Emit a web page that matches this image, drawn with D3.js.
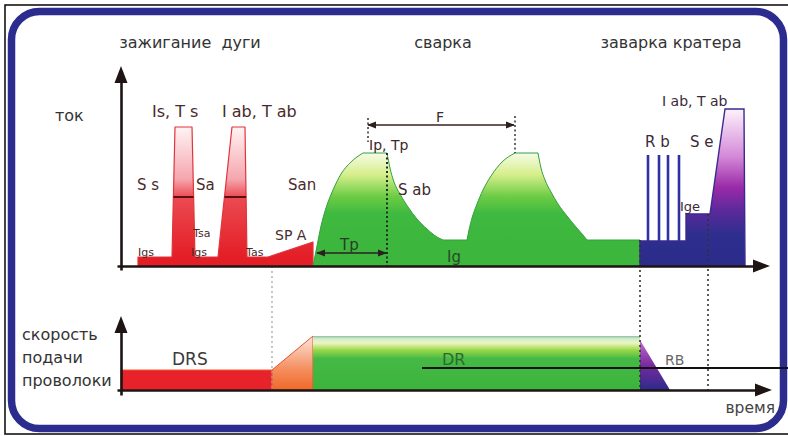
<!DOCTYPE html>
<html><head><meta charset="utf-8">
<script src="https://cdn.jsdelivr.net/npm/d3@7"></script>
<style>
html,body{margin:0;padding:0;background:#fff;}
svg{display:block;}
text{font-family:"DejaVu Sans",sans-serif;}
</style></head>
<body>
<script>
// ---------- data (time units / current units / wire-speed units) ----------
const phaseLabels = ["зажигание  дуги", "сварка", "заварка кратера"];
const phaseTimes = [69, 322, 550];

// ignition (red) current profile [t, I]
const ignitionProfile = [[17,0],[17,9],[51,9],[54,139],[71,139],[74,9],[97,9],[111,139],[124,139],[126,9],[147,9],[192,24],[192,0]];
const slopeMarks = [[52.4,72.6],[103.5,125.1]];
const slopeLevel = 69;

// welding (green) pulse profile [t, I]
const weldRise1 = [[192,0],[196,20],[200,40],[205,58],[212,76],[220,92],[230,104],[242,113]];
const weldFall1 = [[266,113],[269,98],[273,84],[279,72],[287,59],[296,47],[306,37],[316,29],[322,26]];
const weldRise2 = [[346,26],[348,36],[351,48],[356,62],[362,76],[370,90],[381,104],[394,113]];
const weldFall2 = [[417,113],[420,98],[424,86],[430,74],[437,62],[446,50],[455,39],[462,31],[466,26]];
const weldEnd = [[519,26],[519,0]];

// crater fill (blue/purple) profile [t, I]
const craterProfile = [[519,0],[519,25],[565,25],[565,52],[589,52],[604,157],[623,157],[624,0]];
const rbBars = [527,538,547,558];
const rbTop = 111, rbBase = 25;

// wire feed speed [t, V]
const drsProfile = [[0,0],[0,20],[151,20],[151,0]];
const rampProfile = [[151,0],[151,20],[192,54],[192,0]];
const drProfile = [[192,0],[192,54],[519,54],[519,0]];
const rbProfile = [[519,0],[519,50],[549,0]];

// ---------- layout ----------
const W = 788, H = 436;
const x = d3.scaleLinear().domain([0,646]).range([121,767]);
const yT = d3.scaleLinear().domain([0,200]).range([266,66]);
const yB = d3.scaleLinear().domain([0,74]).range([390,316]);

const svg = d3.select("body").append("svg").attr("width",W).attr("height",H);
const defs = svg.append("defs");

function grad(id, y1, y2, stops){
  const g = defs.append("linearGradient").attr("id",id).attr("gradientUnits","userSpaceOnUse")
    .attr("x1",0).attr("x2",0).attr("y1",y1).attr("y2",y2);
  stops.forEach(s=>g.append("stop").attr("offset",s[0]).attr("stop-color",s[1]));
}
grad("gRed", yT(139), yT(9), [[0,"#fff4f4"],[0.4,"#f5a6ae"],[0.54,"#ec4a52"],[1,"#e31e26"]]);
grad("gGreen", yT(113), yT(26), [[0,"#f6fbe8"],[0.25,"#d6ee8a"],[0.5,"#6ccc45"],[0.7,"#3fb93f"],[1,"#3cb63c"]]);
grad("gCrater", yT(157), yT(0), [[0,"#fdf2fb"],[0.3,"#d48ad8"],[0.5,"#9a2aa8"],[0.65,"#5a2a9a"],[0.8,"#2e2e8e"],[1,"#2b2b8a"]]);
grad("gDR", yB(54), yB(0), [[0,"#8fbf9f"],[0.05,"#d0ecd0"],[0.13,"#eef6c0"],[0.26,"#9ad84a"],[0.42,"#45b945"],[1,"#3cb43c"]]);
grad("gRamp", yB(54), yB(0), [[0,"#fde6dc"],[0.6,"#f59060"],[1,"#f06828"]]);
grad("gRB", yB(50), yB(0), [[0,"#c070d0"],[0.5,"#7a2aa0"],[1,"#2b2b8a"]]);

function arrowMarker(id, color, size){
  defs.append("marker").attr("id",id).attr("viewBox","0 0 10 10").attr("refX",9).attr("refY",5)
    .attr("markerWidth",size).attr("markerHeight",size).attr("orient","auto-start-reverse")
    .attr("markerUnits","userSpaceOnUse")
    .append("path").attr("d","M0,1 L10,5 L0,9 Z").attr("fill",color);
}
arrowMarker("arrSmall","#2a2020",9);

// ---------- frame ----------
svg.append("rect").attr("x",5).attr("y",5).attr("width",795).attr("height",429)
  .attr("fill","none").attr("stroke","#151515").attr("stroke-width",1.6);
svg.append("rect").attr("x",11.5).attr("y",11.5).attr("width",772).attr("height",417)
  .attr("rx",28).attr("ry",28).attr("fill","#fff").attr("stroke","#2c2c8e").attr("stroke-width",7.5);

const lineT = d3.line().x(d=>x(d[0])).y(d=>yT(d[1]));
const lineB = d3.line().x(d=>x(d[0])).y(d=>yB(d[1]));

function joinPaths(sections, yScale){
  let d = "";
  sections.forEach((s,i)=>{
    const str = d3.line().x(p=>x(p[0])).y(p=>yScale(p[1]))
      .curve(s.smooth ? d3.curveMonotoneX : d3.curveLinear)(s.pts);
    d += (i===0) ? str : "L" + str.slice(1);
  });
  return d + "Z";
}

// ---------- top panel: current ----------
svg.append("path").attr("d", lineT(ignitionProfile)+"Z").attr("fill","url(#gRed)")
  .attr("stroke","#e0343a").attr("stroke-width",1.2).attr("stroke-linejoin","round");
slopeMarks.forEach(m=>{
  svg.append("line").attr("x1",x(m[0])).attr("x2",x(m[1])).attr("y1",yT(slopeLevel)).attr("y2",yT(slopeLevel))
    .attr("stroke","#5a1010").attr("stroke-width",2);
});

svg.append("path").attr("d", joinPaths([
  {pts:weldRise1,smooth:true},{pts:weldFall1,smooth:true},{pts:weldRise2,smooth:true},
  {pts:weldFall2,smooth:true},{pts:weldEnd,smooth:false}], yT))
  .attr("fill","url(#gGreen)").attr("stroke","#34a040").attr("stroke-width",1);

svg.append("path").attr("d", lineT(craterProfile)+"Z").attr("fill","url(#gCrater)")
  .attr("stroke","#3a2a90").attr("stroke-width",1.4);
rbBars.forEach(t=>{
  svg.append("line").attr("x1",x(t)).attr("x2",x(t)).attr("y1",yT(rbBase)).attr("y2",yT(rbTop))
    .attr("stroke","#3030a0").attr("stroke-width",2.6);
});

// ---------- bottom panel: wire feed ----------
svg.append("path").attr("d", lineB(drsProfile)+"Z").attr("fill","#e8222a").attr("stroke","#f05a30").attr("stroke-width",1);
svg.append("path").attr("d", lineB(rampProfile)+"Z").attr("fill","url(#gRamp)").attr("stroke","#e85030").attr("stroke-width",1);
svg.append("path").attr("d", lineB(drProfile)+"Z").attr("fill","url(#gDR)");
svg.append("path").attr("d", lineB(rbProfile)+"Z").attr("fill","url(#gRB)");

// ---------- guide lines ----------
const guides = [
  {t:151, y1:yT(0), y2:yB(0), c:"#a0a0a0", w:1.2, dash:"2,3"},
  {t:519, y1:yT(26), y2:yB(0), c:"#333", w:1.6, dash:"2,3"},
  {t:587, y1:yT(52), y2:yB(0), c:"#333", w:1.6, dash:"2,3"},
  {t:266, y1:yT(113), y2:yT(0), c:"#1f3020", w:2, dash:"2,2.5"},
  {t:247, y1:yT(148), y2:yT(124), c:"#333", w:1.5, dash:"2,2.5"},
  {t:394, y1:yT(150), y2:yT(113), c:"#333", w:1.5, dash:"2,2.5"}
];
guides.forEach(g=>{
  svg.append("line").attr("x1",x(g.t)).attr("x2",x(g.t)).attr("y1",g.y1).attr("y2",g.y2)
    .attr("stroke",g.c).attr("stroke-width",g.w).attr("stroke-dasharray",g.dash);
});

// F and Tp dimension arrows
svg.append("line").attr("x1",x(247)).attr("x2",x(393)).attr("y1",yT(141)).attr("y2",yT(141))
  .attr("stroke","#3a2020").attr("stroke-width",1.6)
  .attr("marker-start","url(#arrSmall)").attr("marker-end","url(#arrSmall)");
svg.append("line").attr("x1",x(196)).attr("x2",x(265)).attr("y1",yT(13)).attr("y2",yT(13))
  .attr("stroke","#2a2020").attr("stroke-width",1.6)
  .attr("marker-start","url(#arrSmall)").attr("marker-end","url(#arrSmall)");

// ---------- axes ----------
function axisArrow(px, py, dir){
  const L = 17, hw = 6.5;
  let p;
  if(dir==="up") p = [[px,py],[px-hw,py+L],[px+hw,py+L]];
  else p = [[px,py],[px-L,py-hw],[px-L,py+hw]];
  svg.append("path").attr("d","M"+p.map(q=>q.join(",")).join("L")+"Z").attr("fill","#1e1414");
}
const xAxisTop = d3.axisBottom(d3.scaleLinear().domain([0,1]).range([117,758])).ticks(0).tickSizeOuter(0);
svg.append("g").attr("transform",`translate(0,${yT(0)})`).call(xAxisTop)
  .select(".domain").attr("stroke","#1e1414").attr("stroke-width",2.6);
const yAxisTop = d3.axisLeft(d3.scaleLinear().domain([0,1]).range([270,80])).ticks(0).tickSizeOuter(0);
svg.append("g").attr("transform",`translate(${x(0)},0)`).call(yAxisTop)
  .select(".domain").attr("stroke","#1e1414").attr("stroke-width",2.6);
axisArrow(x(0), yT(200), "up");
axisArrow(770, yT(0), "right");

const xAxisBot = d3.axisBottom(d3.scaleLinear().domain([0,1]).range([117,760])).ticks(0).tickSizeOuter(0);
svg.append("g").attr("transform",`translate(0,${yB(0)})`).call(xAxisBot)
  .select(".domain").attr("stroke","#1e1414").attr("stroke-width",2.6);
const yAxisBot = d3.axisLeft(d3.scaleLinear().domain([0,1]).range([395,330])).ticks(0).tickSizeOuter(0);
svg.append("g").attr("transform",`translate(${x(0)},0)`).call(yAxisBot)
  .select(".domain").attr("stroke","#1e1414").attr("stroke-width",2.6);
axisArrow(x(0), yB(74), "up");
axisArrow(772, yB(0), "right");

// stray black line (present in reference)
svg.append("line").attr("x1",x(301)).attr("x2",790).attr("y1",yB(22)).attr("y2",yB(22))
  .attr("stroke","#111").attr("stroke-width",2);

// ---------- texts ----------
phaseLabels.forEach((s,i)=>{
  svg.append("text").attr("x",x(phaseTimes[i])).attr("y",48).attr("text-anchor","middle")
    .attr("font-size",16).attr("fill","#333").style("white-space","pre").text(s);
});
svg.append("text").attr("x",55).attr("y",121).attr("font-size",16).attr("fill","#333").text("ток");
["скорость","подачи","проволоки"].forEach((s,i)=>{
  svg.append("text").attr("x",22).attr("y",340+i*23).attr("font-size",16).attr("fill","#333").text(s);
});
svg.append("text").attr("x",775).attr("y",413).attr("text-anchor","end").attr("font-size",15.5).attr("fill","#444").text("время");

const topLabels = [
  {s:"Is, T s", t:31, v:149, f:16, c:"#4a2a2a"},
  {s:"I ab, T ab", t:101, v:149, f:16, c:"#4a2a2a"},
  {s:"S s", t:16, v:76, f:15, c:"#4a2a2a"},
  {s:"Sa", t:75, v:76, f:15, c:"#4a2a2a"},
  {s:"San", t:167, v:76, f:15, c:"#4a2a2a"},
  {s:"Tsa", t:72, v:29, f:11, c:"#4a2a2a"},
  {s:"Igs", t:17, v:10, f:11, c:"#4a2a2a"},
  {s:"Igs", t:70, v:10, f:11, c:"#4a2a2a"},
  {s:"Tas", t:125, v:10, f:11, c:"#4a2a2a"},
  {s:"SP A", t:154, v:26, f:14, c:"#4a2a2a"},
  {s:"Ip, Tp", t:248, v:116, f:14, c:"#3a2a2a"},
  {s:"F", t:315, v:144, f:14, c:"#3a2a2a"},
  {s:"S ab", t:277, v:71, f:15, c:"#3a2a2a"},
  {s:"Tp", t:219, v:16, f:15, c:"#2a3a2a"},
  {s:"Ig", t:326, v:4, f:15, c:"#2a4a2a"},
  {s:"R b", t:524, v:119, f:15, c:"#3a2a3a"},
  {s:"S e", t:569, v:119, f:15, c:"#3a2a3a"},
  {s:"Ige", t:559, v:55, f:13, c:"#3a2a3a"},
  {s:"I ab, T ab", t:541, v:160, f:14, c:"#3a2a3a"}
];
topLabels.forEach(l=>{
  svg.append("text").attr("x",x(l.t)).attr("y",yT(l.v)).attr("font-size",l.f).attr("fill",l.c)
    .style("white-space","pre").text(l.s);
});
const botLabels = [
  {s:"DRS", t:51, v:25, f:17, c:"#3a3a3a"},
  {s:"DR", t:321, v:25, f:16, c:"#2d6b2d"},
  {s:"RB", t:544, v:25, f:14, c:"#666"}
];
botLabels.forEach(l=>{
  svg.append("text").attr("x",x(l.t)).attr("y",yB(l.v)).attr("font-size",l.f).attr("fill",l.c).text(l.s);
});
</script>
</body></html>
